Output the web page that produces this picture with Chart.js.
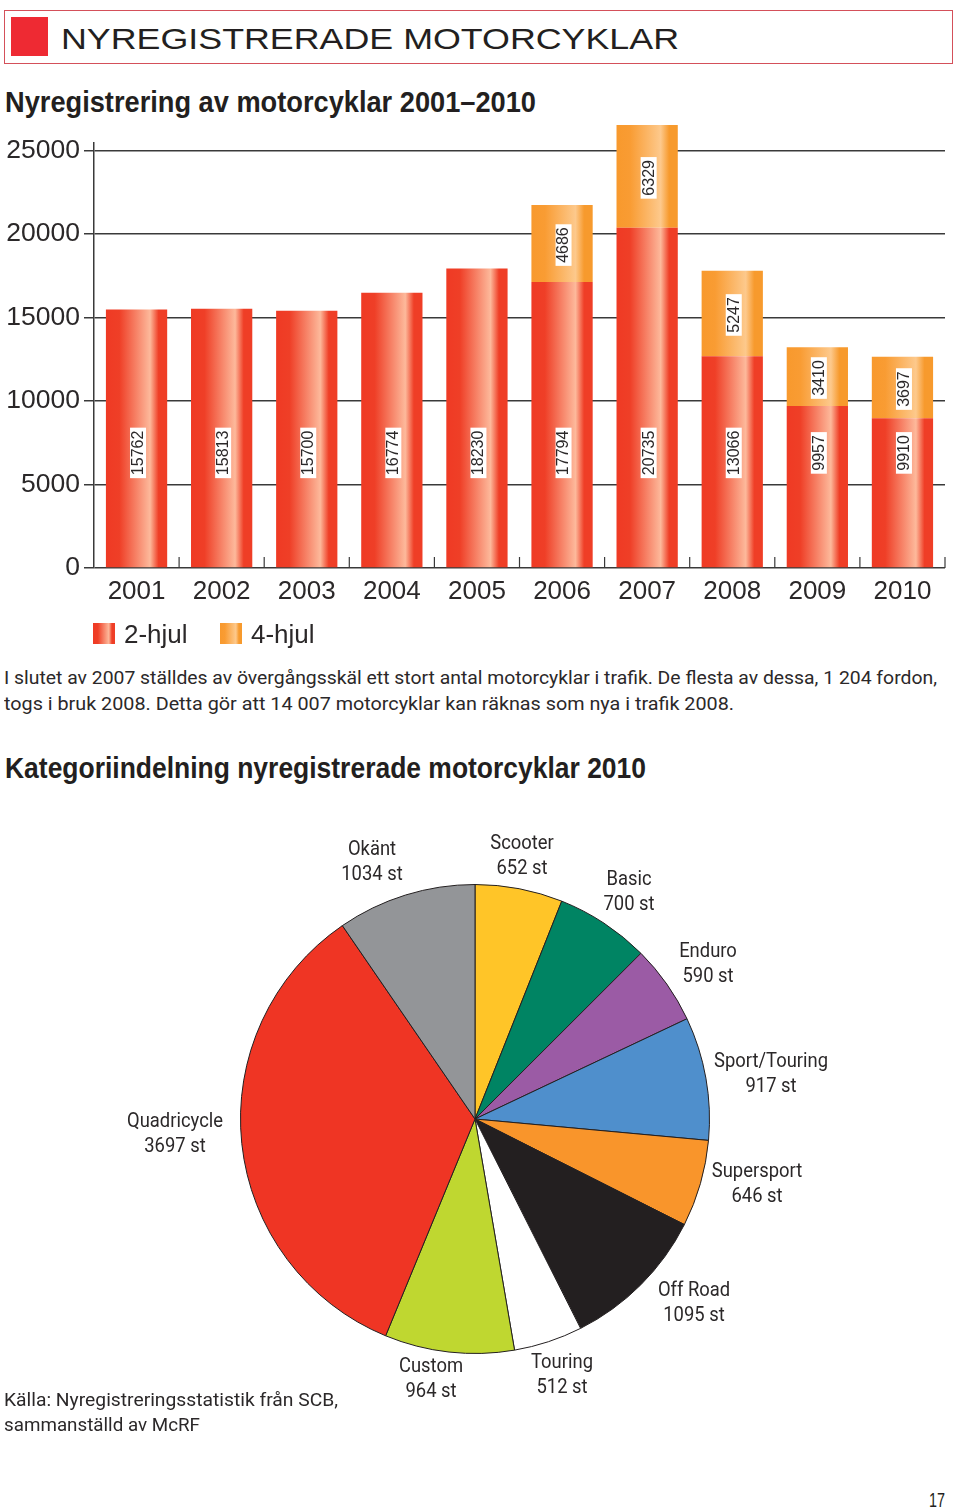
<!DOCTYPE html>
<html lang="sv">
<head>
<meta charset="utf-8">
<title>Nyregistrerade motorcyklar</title>
<script src="https://cdn.jsdelivr.net/npm/chart.js@4"></script>
<style>
  html, body { margin: 0; background: #fff; }
  body { position: relative; width: 960px; height: 1507px; overflow: hidden; color: #231f20; font-family: Roboto, sans-serif; }
  canvas { position: absolute; left: 0; }
  #barChart { top: 0; }
  #pieChart { top: 760px; }
  .head-box { position: absolute; left: 4px; top: 10px; width: 947px; height: 52px; border: 1.5px solid #d4505a; }
  .head-square { position: absolute; left: 11px; top: 17px; width: 37px; height: 39px; background: #ee2a33; }
  .t { position: absolute; white-space: nowrap; transform-origin: 0 50%; line-height: 1; }
  .h1 { font: 29px "Liberation Sans", sans-serif; }
  .h2 { font: bold 30px "Liberation Sans Narrow", "Liberation Sans", sans-serif; }
  .p { font: 18.5px Roboto, sans-serif; color: #2b2829; }
  .pg { font: 20px "Liberation Sans Narrow", sans-serif; }
</style>
</head>
<body>
<div class="head-box"></div>
<div class="head-square"></div>
<div class="t h1" data-w="618" style="left:61px;top:23px">NYREGISTRERADE MOTORCYKLAR</div>
<div class="t h2" data-w="531" style="left:5px;top:85px">Nyregistrering av motorcyklar 2001–2010</div>
<canvas id="barChart" width="960" height="650"></canvas>
<div class="t p" data-w="933" style="left:4px;top:667px">I slutet av 2007 ställdes av övergångsskäl ett stort antal motorcyklar i trafik. De flesta av dessa, 1 204 fordon,</div>
<div class="t p" data-w="730" style="left:4px;top:693px">togs i bruk 2008. Detta gör att 14 007 motorcyklar kan räknas som nya i trafik 2008.</div>
<div class="t h2" data-w="641" style="left:5px;top:751px">Kategoriindelning nyregistrerade motorcyklar 2010</div>
<canvas id="pieChart" width="950" height="718"></canvas>
<div class="t p" data-w="334" style="left:4px;top:1389px">Källa: Nyregistreringsstatistik från SCB,</div>
<div class="t p" data-w="196" style="left:4px;top:1414px">sammanställd av McRF</div>
<div class="t pg" data-w="16" style="left:929px;top:1489px">17</div>
<script>
const years = ['2001', '2002', '2003', '2004', '2005', '2006', '2007', '2008', '2009', '2010'];
// bar heights as drawn in the picture; the printed labels below do not quite agree with them
const twoWheelHeights = [15480, 15516, 15396, 16475, 17937, 17116, 20369, 12683, 9705, 8968];
const fourWheelHeights = [0, 0, 0, 0, 0, 4613, 6153, 5110, 3517, 3672];
const twoWheelLabels = [15762, 15813, 15700, 16774, 18230, 17794, 20735, 13066, 9957, 9910];
const fourWheelLabels = [null, null, null, null, null, 4686, 6329, 5247, 3410, 3697];
const yTicks = [0, 5000, 10000, 15000, 20000, 25000];

const pieCategories = ['Scooter', 'Basic', 'Enduro', 'Sport/Touring', 'Supersport', 'Off Road', 'Touring', 'Custom', 'Quadricycle', 'Okänt'];
const pieValues = [652, 700, 590, 917, 646, 1095, 512, 964, 3697, 1034];
const pieColors = ['#ffc528', '#008463', '#9b5ba5', '#4f8fcc', '#f9952b', '#231f20', '#ffffff', '#bfd730', '#ef3524', '#939598'];
// label centre relative to the pie centre
const pieLabelOffsets = [[47, -275], [154, -239], [233, -167], [296, -57], [282, 53], [219, 172], [87, 244], [-44, 248], [-300, 3], [-103, -269]];

const INK = '#2b2829';
const red = ['#ef3a24', '#ef3f27', '#fdb99b', '#ef3e26'];
const orange = ['#f8992d', '#f99c33', '#fdc98c', '#f79a2d'];
const BAR_PCT = 0.72;

function barGradient(ctx, cols) {
  if (ctx.type !== 'data') return cols[0];
  const scale = ctx.chart.scales.x;
  const half = (scale.width / years.length) * BAR_PCT / 2;
  const cx = scale.getPixelForValue(ctx.dataIndex);
  if (!Number.isFinite(cx) || !Number.isFinite(half)) return cols[0];
  return sweep(ctx.chart.ctx, cx - half, cx + half, cols);
}

function sweep(c, x0, x1, cols) {
  const g = c.createLinearGradient(x0, 0, x1, 0);
  g.addColorStop(0, cols[0]);
  g.addColorStop(0.22, cols[1]);
  g.addColorStop(0.72, cols[2]);
  g.addColorStop(0.86, cols[3]);
  g.addColorStop(1, cols[3]);
  return g;
}

const barExtras = {
  id: 'barExtras',
  afterDraw(chart) {
    const c = chart.ctx, x = chart.scales.x, y = chart.scales.y;
    const zero = y.getPixelForValue(0);
    c.save();

    // small upward ticks between the years
    const step = x.width / years.length;
    c.strokeStyle = '#3a3a3a';
    c.lineWidth = 1.2;
    for (let i = 1; i <= years.length; i++) {
      const px = x.left + i * step;
      c.beginPath();
      c.moveTo(px, zero);
      c.lineTo(px, zero - 11);
      c.stroke();
    }

    // value labels on white plates, turned to read upwards
    c.font = '16px "Liberation Sans", sans-serif';
    c.textAlign = 'center';
    c.textBaseline = 'middle';
    const plate = (cx, cy, text) => {
      const w = c.measureText(text).width + 6;
      c.fillStyle = '#fff';
      c.fillRect(cx - 8, cy - w / 2, 16, w);
      c.save();
      c.translate(cx + 0.5, cy);
      c.rotate(-Math.PI / 2);
      c.fillStyle = INK;
      c.fillText(text, 0, 0);
      c.restore();
    };
    years.forEach((yr, i) => {
      const cx = x.getPixelForValue(i) + 1.5;
      plate(cx, y.getPixelForValue(6890), String(twoWheelLabels[i]));
      if (fourWheelLabels[i] !== null) {
        const mid = twoWheelHeights[i] + fourWheelHeights[i] / 2;
        plate(cx, y.getPixelForValue(mid) + 1.5, String(fourWheelLabels[i]));
      }
    });

    // legend
    const items = [[93, 124, red], [220, 251, orange]];
    c.textAlign = 'left';
    c.font = '26px "Liberation Sans", sans-serif';
    items.forEach(([bx, tx, cols], i) => {
      c.fillStyle = sweep(c, bx, bx + 22, cols);
      c.fillRect(bx, 623, 22, 21);
      c.fillStyle = INK;
      c.fillText(chart.data.datasets[i].label, tx, 636);
    });
    c.restore();
  }
};

new Chart('barChart', {
  type: 'bar',
  data: {
    labels: years,
    datasets: [
      { label: '2-hjul', data: twoWheelHeights, backgroundColor: ctx => barGradient(ctx, red), clip: false },
      { label: '4-hjul', data: fourWheelHeights, backgroundColor: ctx => barGradient(ctx, orange), clip: false },
    ],
  },
  options: {
    responsive: false,
    animation: false,
    layout: { padding: { top: 143, right: 15, bottom: 0, left: 0 } },
    datasets: { bar: { barPercentage: BAR_PCT, categoryPercentage: 1 } },
    plugins: { legend: { display: false }, tooltip: { enabled: false } },
    scales: {
      x: {
        stacked: true,
        grid: { display: false },
        border: { display: false },
        ticks: { color: INK, font: { size: 26, family: '"Liberation Sans"' }, padding: 0, maxRotation: 0 },
        afterFit: s => { s.height = 82; },
      },
      y: {
        stacked: true,
        min: 0,
        max: 25443,
        afterBuildTicks: s => { s.ticks = yTicks.map(v => ({ value: v })); },
        grid: { color: '#3a3a3a', lineWidth: 1.5, tickLength: 10 },
        border: { color: '#3a3a3a', width: 1.5 },
        ticks: {
          color: INK,
          font: { size: 26.5, family: '"Liberation Sans"' },
          padding: 4,
          callback: v => String(v),
        },
        afterFit: s => { s.width = 94; },
      },
    },
  },
  plugins: [barExtras],
});

const pieLabels = {
  id: 'pieLabels',
  afterDraw(chart) {
    const c = chart.ctx, arc = chart.getDatasetMeta(0).data[0];
    c.save();
    c.font = '20px Roboto, sans-serif';
    c.textAlign = 'center';
    c.textBaseline = 'middle';
    c.fillStyle = INK;
    const squeezed = (text, px, py) => {
      c.save();
      c.translate(px, py);
      c.scale(0.92, 1);
      c.fillText(text, 0, 0);
      c.restore();
    };
    pieCategories.forEach((name, i) => {
      const [dx, dy] = pieLabelOffsets[i];
      squeezed(name, arc.x + dx, arc.y + dy);
      squeezed(pieValues[i] + ' st', arc.x + dx, arc.y + dy + 24.5);
    });
    c.restore();
  }
};

new Chart('pieChart', {
  type: 'pie',
  data: {
    labels: pieCategories,
    datasets: [{ data: pieValues, backgroundColor: pieColors, borderColor: '#231f20', borderWidth: 1 }],
  },
  options: {
    responsive: false,
    animation: false,
    layout: { padding: { top: 124, bottom: 124 } },
    plugins: { legend: { display: false }, tooltip: { enabled: false } },
  },
  plugins: [pieLabels],
});

// squeeze each line of text to the width it has in the print
document.querySelectorAll('.t[data-w]').forEach(el => {
  el.style.transform = 'scaleX(' + el.dataset.w / el.getBoundingClientRect().width + ')';
});
</script>
</body>
</html>
